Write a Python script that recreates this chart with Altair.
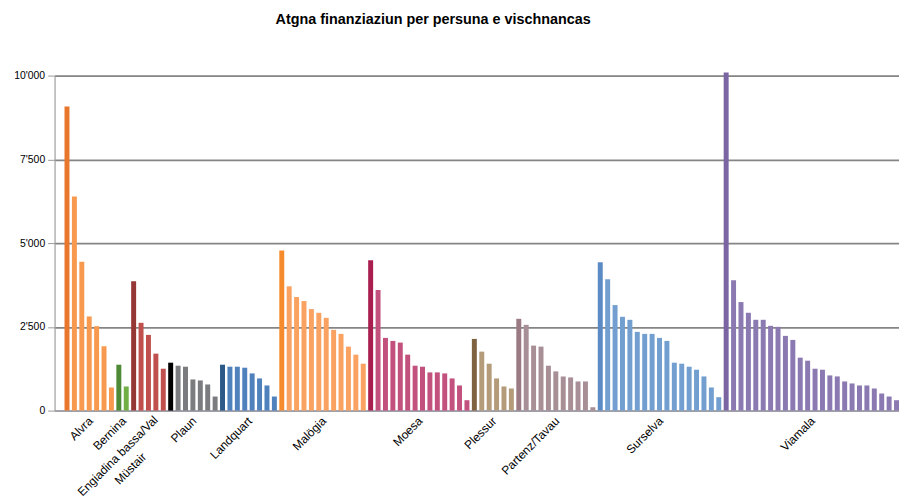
import altair as alt
import pandas as pd

groups = ["Alvra", "Bernina", "Engiadina bassa/Val Müstair", "Plaun", "Landquart",
          "Malögia", "Moesa", "Plessur", "Partenz/Tavau", "Surselva", "Viamala"]

values = [
    [9080, 6390, 4440, 2810, 2520, 1920, 690],
    [1370, 720],
    [3860, 2620, 2260, 1700, 1250],
    [1430, 1340, 1310, 930, 900, 780, 420],
    [1370, 1310, 1310, 1280, 1110, 960, 750, 420],
    [4780, 3710, 3390, 3270, 3030, 2920, 2770, 2410, 2290, 1910, 1670, 1400],
    [4490, 3600, 2170, 2080, 2030, 1670, 1340, 1310, 1140, 1140, 1110, 960, 750, 310],
    [2140, 1760, 1400, 960, 720, 660],
    [2740, 2560, 1940, 1910, 1340, 1170, 1020, 990, 870, 870, 100],
    [4430, 3920, 3150, 2800, 2710, 2350, 2290, 2290, 2170, 2080, 1430, 1400, 1310, 1220, 1020, 690, 400],
    [10090, 3890, 3240, 2920, 2710, 2710, 2530, 2500, 2230, 2110, 1580, 1490, 1250, 1220,
     1050, 1020, 870, 810, 750, 750, 660, 510, 420, 310],
]

dark_colors = ["#E8772D", "#4E8A35", "#953735", "#000000", "#2C5987",
               "#F68B2E", "#A91E4F", "#7F6240", "#9A7B84", "#5B8BC4", "#7A64A2"]
base_colors = ["#F79A4F", "#71AE45", "#C0504D", "#7A7C7F", "#4F81BD",
               "#F9A261", "#C2527D", "#B49C7A", "#A88E95", "#729FCF", "#8B79B1"]

y_ticks = [0, 2500, 5000, 7500, 10000]

rows = []
labels = []
idx = 0
for g, vals, dc, bc in zip(groups, values, dark_colors, base_colors):
    n = len(vals)
    for j, v in enumerate(vals):
        rows.append({"id": idx + j, "group": g, "value": v, "color": dc if j == 0 else bc})
    labels.append({"id": idx + (n - 1) // 2, "label": g, "even": n % 2 == 0,
                   "multi": "/Val" in g})
    idx += n

bars_df = pd.DataFrame(rows)
lab_df = pd.DataFrame(labels)
lab_df["text"] = lab_df["label"].str.replace("/Val ", "/Val\n", regex=False)

FONT = "Liberation Sans"
ANGLE = 315
LFS = 12

x_scale = alt.Scale(paddingInner=0.33, paddingOuter=0.67, align=1, round=False)
y_scale = alt.Scale(domain=[0, 10000], nice=False)

bars = alt.Chart(bars_df).mark_bar(clip=False).encode(
    x=alt.X("id:O", scale=x_scale,
            axis=alt.Axis(labels=False, ticks=False, title=None, grid=False,
                          domainColor="#A9A9B5", domainWidth=1.5)),
    y=alt.Y("value:Q", scale=y_scale,
            axis=alt.Axis(values=y_ticks, title=None,
                          labelExpr="replace(format(datum.value, ','), ',', \"'\")",
                          labelFont=FONT, labelFontSize=10.5, labelColor="#000000",
                          labelPadding=3, tickSize=7, tickColor="#9A9A9A",
                          domainColor="#9A9A9A", domainWidth=1,
                          gridColor="#858585", gridWidth=1.7)),
    color=alt.Color("color:N", scale=None),
)

base_text = alt.Chart(lab_df)

odd_labels = base_text.transform_filter("!datum.even && !datum.multi").mark_text(
    align="right", baseline="top", angle=ANGLE, font=FONT, fontSize=LFS, color="#000000",
    dx=-4.9, dy=2.1,
).encode(x=alt.X("id:O"), y=alt.datum(0), text="text:N")

even_labels = base_text.transform_filter("datum.even && !datum.multi").mark_text(
    align="right", baseline="top", angle=ANGLE, font=FONT, fontSize=LFS, color="#000000",
    dx=-2.3, dy=4.8,
).encode(x=alt.X("id:O"), y=alt.datum(0), text="text:N")

multi_labels = base_text.transform_filter("datum.multi").mark_text(
    align="center", baseline="top", angle=ANGLE, font=FONT, fontSize=LFS, color="#000000",
    lineBreak="\n", lineHeight=18, dx=-54.3, dy=5.5,
).encode(x=alt.X("id:O"), y=alt.datum(0), text="text:N")

chart = alt.layer(bars, odd_labels, even_labels, multi_labels).properties(
    width=852, height=338,
    padding={"left": 47, "top": 66, "right": 0, "bottom": 88},
    autosize=alt.AutoSizeParams(type="none"),
    title=alt.TitleParams(
        "Atgna finanziaziun per persuna e vischnancas",
        anchor="middle", frame="group", dx=-44, offset=44,
        font=FONT, fontSize=14.5, fontWeight="bold", color="#000000",
    ),
).configure_view(stroke=None).configure(background="white")

chart.save("out.html", embed_options={"renderer": "svg", "actions": False})
